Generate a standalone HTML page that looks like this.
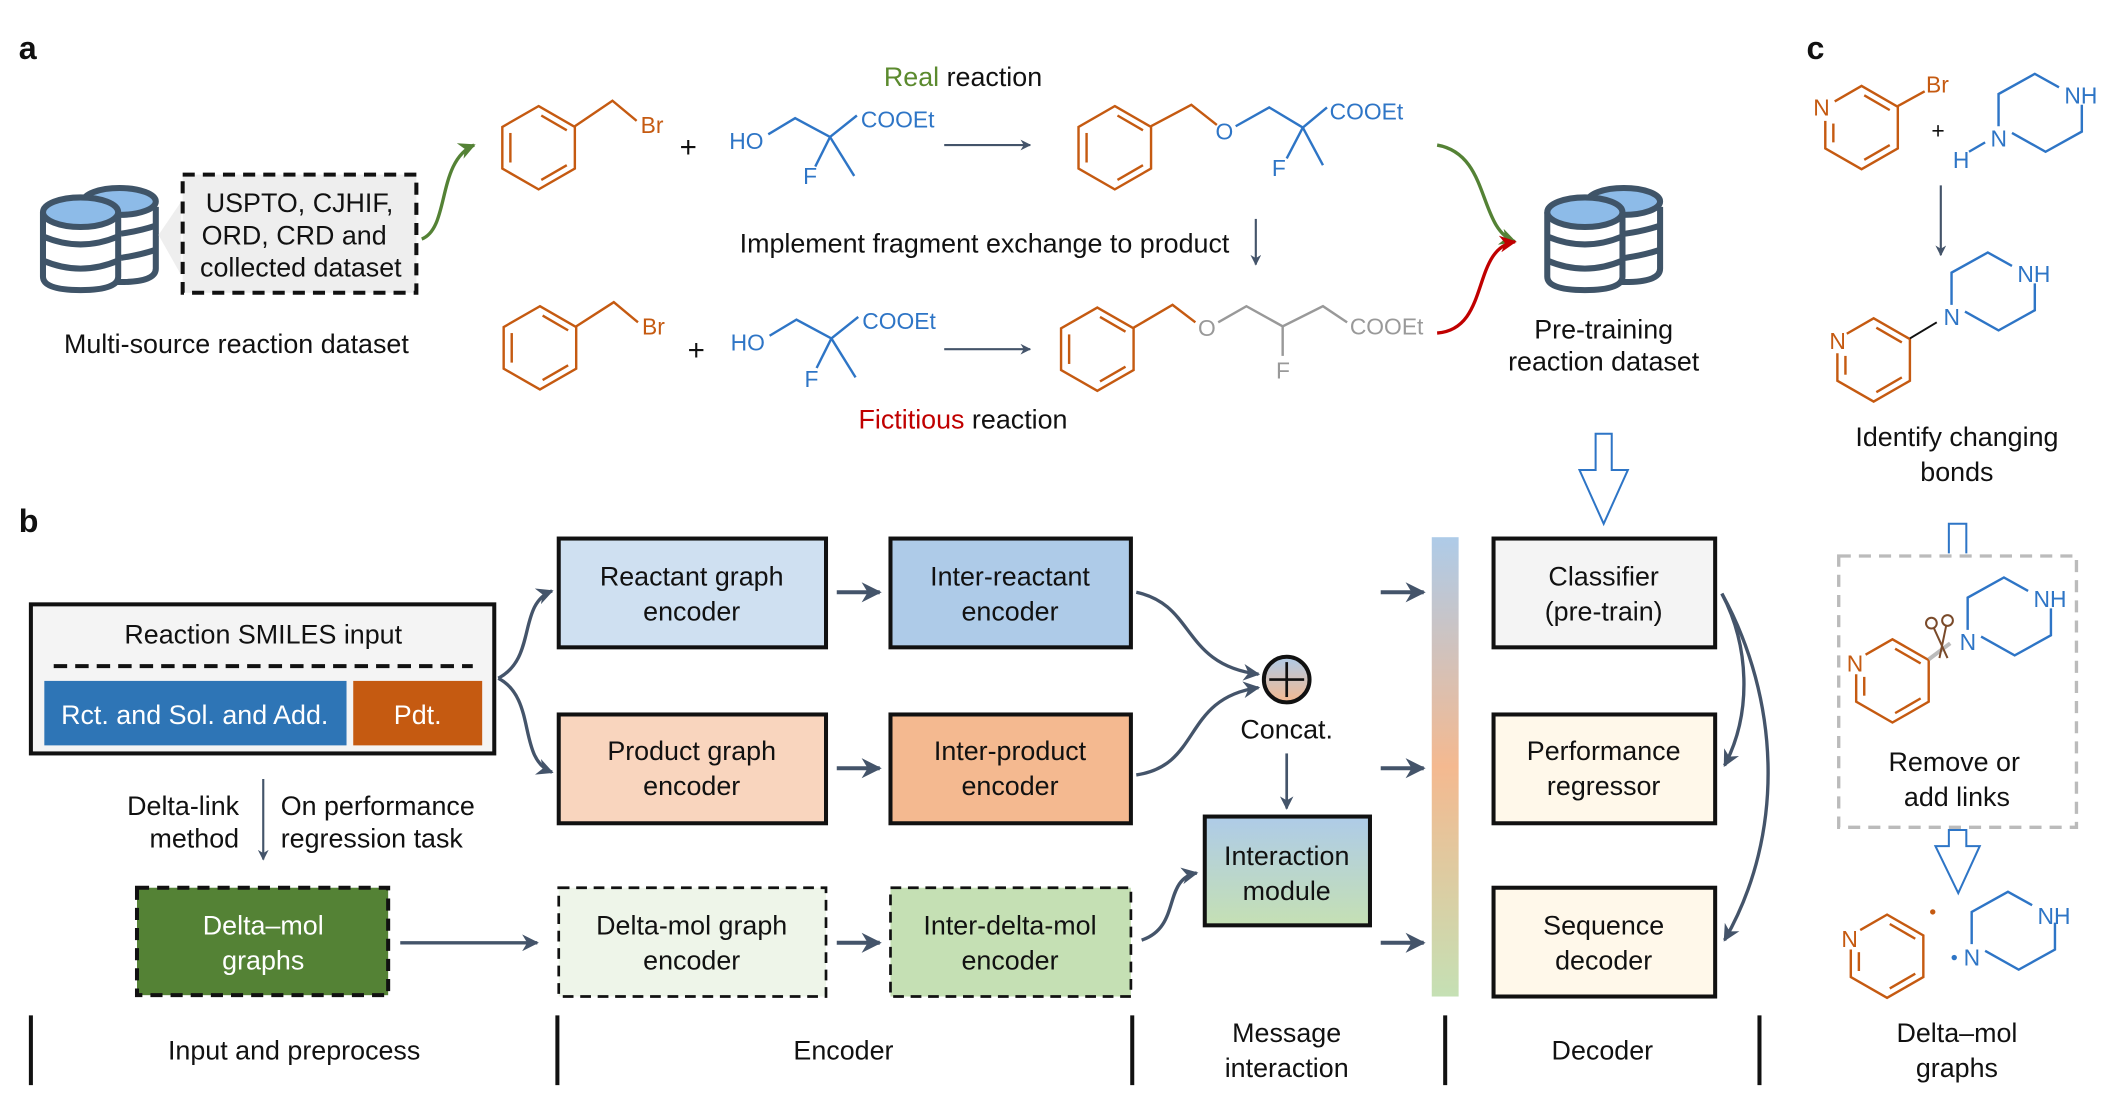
<!DOCTYPE html>
<html><head><meta charset="utf-8"><style>
html,body{margin:0;padding:0;background:#fff;width:2106px;height:1110px;overflow:hidden}
svg{display:block}
text{font-family:"Liberation Sans",sans-serif;font-size:20px;fill:#111}
</style></head><body>
<svg width="2106" height="1110" viewBox="0 0 1568 826.5" preserveAspectRatio="none" xmlns="http://www.w3.org/2000/svg">
<defs>
<marker id="ah" viewBox="0 0 10 10" refX="9" refY="5" markerWidth="5" markerHeight="5" orient="auto"><path d="M0,0 L10,5 L0,10 L3,5 z" fill="#44546a"/></marker>
<marker id="ahg" viewBox="0 0 10 10" refX="9" refY="5" markerWidth="5" markerHeight="5" orient="auto"><path d="M0,0 L10,5 L0,10 L3,5 z" fill="#548235"/></marker>
<marker id="ahr" viewBox="0 0 10 10" refX="9" refY="5" markerWidth="5" markerHeight="5" orient="auto"><path d="M0,0 L10,5 L0,10 L3,5 z" fill="#c00000"/></marker>
<g id="bz" fill="none" stroke="#c55a11" stroke-width="1.8">
<polygon points="0,-31 27,-15.5 27,15.5 0,31 -27,15.5 -27,-15.5"/>
<line x1="2" y1="-24" x2="21" y2="-13"/><line x1="-21" y1="-11" x2="-21" y2="11"/><line x1="21" y1="13" x2="2" y2="24"/>
</g>
<g id="py" fill="none" stroke="#c55a11" stroke-width="1.8">
<polyline points="-20,-19.5 0,-31 27,-15.5 27,15.5 0,31 -27,15.5 -27,-5"/>
<line x1="2" y1="-24" x2="21" y2="-13"/><line x1="-21" y1="-3" x2="-21" y2="11"/><line x1="21" y1="13" x2="2" y2="24"/>
</g>
<g id="pip" fill="none" stroke="#2e75c6" stroke-width="1.8">
<polyline points="0,-9 0,-33 27,-48 45,-38"/><polyline points="62,-25 62,-5 35,10 10,-4"/>
</g>
<g id="db" stroke="#3f5468" stroke-width="4.5">
<path d="M30,16 L30,62 Q30,72 58,72 Q84,72 84,62 L84,16" fill="#fff"/>
<ellipse cx="57" cy="12" rx="27" ry="10" fill="#8dbbe8"/>
<path d="M58,36 Q72,34 84,30 M58,54 Q72,52 84,48" fill="none"/>
<path d="M0,20 L0,68 Q0,78 28,78 Q56,78 56,68 L56,20" fill="#fff"/>
<ellipse cx="28" cy="20" rx="28" ry="11" fill="#8dbbe8"/>
<path d="M0,38 Q28,50 56,38 M0,56 Q28,68 56,56" fill="none"/>
</g>
<linearGradient id="gbar" x1="0" y1="0" x2="0" y2="1"><stop offset="0" stop-color="#aecbe8"/><stop offset="0.5" stop-color="#f4b990"/><stop offset="1" stop-color="#c5e0b4"/></linearGradient>
<linearGradient id="gim" x1="0" y1="0" x2="0" y2="1"><stop offset="0" stop-color="#aecbe8"/><stop offset="1" stop-color="#c5e0b4"/></linearGradient>
<linearGradient id="gc" x1="0" y1="0" x2="0" y2="1"><stop offset="0" stop-color="#aecbe8"/><stop offset="1" stop-color="#f4b990"/></linearGradient>
</defs>

<text x="14" y="44" style="font-weight:bold;font-size:24px">a</text>
<text x="14" y="396" style="font-weight:bold;font-size:24px">b</text>
<text x="1345" y="44" style="font-weight:bold;font-size:24px">c</text>

<!-- panel a -->
<use href="#db" x="32" y="138"/>
<polygon points="135,150 118,175 135,205" fill="#eee"/>
<rect x="136" y="130" width="174" height="88" fill="#eee" stroke="#111" stroke-width="3" stroke-dasharray="9,6"/>
<text x="223" y="158" text-anchor="middle">USPTO, CJHIF,</text>
<text x="219" y="182" text-anchor="middle">ORD, CRD and</text>
<text x="224" y="206" text-anchor="middle">collected dataset</text>
<text x="176" y="263" text-anchor="middle">Multi-source reaction dataset</text>
<path d="M314,178 C335,170 325,120 353,108" fill="none" stroke="#548235" stroke-width="2.5" marker-end="url(#ahg)"/>

<text x="717" y="64" text-anchor="middle"><tspan fill="#5b8a2e">Real</tspan> reaction</text>
<use href="#bz" x="401" y="110"/>
<polyline points="428,94 456,75 474,90" fill="none" stroke="#c55a11" stroke-width="1.8"/>
<text x="477" y="99" style="fill:#c55a11;font-size:17px">Br</text>
<text x="506" y="117" style="font-size:22px">+</text>
<text x="543" y="111" style="fill:#2e75c6;font-size:17px">HO</text>
<polyline points="572,100 592,88 618,102 638,86" fill="none" stroke="#2e75c6" stroke-width="1.8"/>
<line x1="618" y1="102" x2="607" y2="124" stroke="#2e75c6" stroke-width="1.8"/>
<line x1="618" y1="102" x2="636" y2="131" stroke="#2e75c6" stroke-width="1.8"/>
<text x="641" y="95" style="fill:#2e75c6;font-size:17px">COOEt</text>
<text x="598" y="137" style="fill:#2e75c6;font-size:17px">F</text>
<line x1="703" y1="108" x2="767" y2="108" stroke="#44546a" stroke-width="1.6" marker-end="url(#ah)"/>
<use href="#bz" x="830" y="110"/>
<polyline points="857,94 887,78 906,93" fill="none" stroke="#c55a11" stroke-width="1.8"/>
<text x="905" y="104" style="fill:#2e75c6;font-size:17px">O</text>
<polyline points="920,94 945,80 970,95 988,80" fill="none" stroke="#2e75c6" stroke-width="1.8"/>
<line x1="970" y1="95" x2="958" y2="118" stroke="#2e75c6" stroke-width="1.8"/>
<line x1="970" y1="95" x2="985" y2="123" stroke="#2e75c6" stroke-width="1.8"/>
<text x="990" y="89" style="fill:#2e75c6;font-size:17px">COOEt</text>
<text x="947" y="131" style="fill:#2e75c6;font-size:17px">F</text>

<text x="733" y="188" text-anchor="middle">Implement fragment exchange to product</text>
<line x1="935" y1="163" x2="935" y2="197" stroke="#44546a" stroke-width="1.6" marker-end="url(#ah)"/>

<use href="#bz" x="402" y="259"/>
<polyline points="429,243 457,225 475,240" fill="none" stroke="#c55a11" stroke-width="1.8"/>
<text x="478" y="249" style="fill:#c55a11;font-size:17px">Br</text>
<text x="512" y="268" style="font-size:22px">+</text>
<text x="544" y="261" style="fill:#2e75c6;font-size:17px">HO</text>
<polyline points="573,250 593,238 619,252 639,236" fill="none" stroke="#2e75c6" stroke-width="1.8"/>
<line x1="619" y1="252" x2="608" y2="274" stroke="#2e75c6" stroke-width="1.8"/>
<line x1="619" y1="252" x2="637" y2="281" stroke="#2e75c6" stroke-width="1.8"/>
<text x="642" y="245" style="fill:#2e75c6;font-size:17px">COOEt</text>
<text x="599" y="288" style="fill:#2e75c6;font-size:17px">F</text>
<line x1="703" y1="260" x2="767" y2="260" stroke="#44546a" stroke-width="1.6" marker-end="url(#ah)"/>
<use href="#bz" x="817" y="260"/>
<polyline points="844,244 873,227 890,240" fill="none" stroke="#c55a11" stroke-width="1.8"/>
<text x="892" y="250" style="fill:#999;font-size:17px">O</text>
<polyline points="907,240 928,228 955,243 985,228 1003,240" fill="none" stroke="#999" stroke-width="1.8"/>
<line x1="955" y1="243" x2="955" y2="265" stroke="#999" stroke-width="1.8"/>
<text x="1005" y="249" style="fill:#999;font-size:17px">COOEt</text>
<text x="950" y="282" style="fill:#999;font-size:17px">F</text>
<text x="717" y="319" text-anchor="middle"><tspan fill="#c00000">Fictitious</tspan> reaction</text>

<path d="M1070,108 C1110,115 1100,170 1128,180" fill="none" stroke="#548235" stroke-width="2.5" marker-end="url(#ahg)"/>
<path d="M1070,248 C1110,245 1095,185 1128,180" fill="none" stroke="#c00000" stroke-width="2.5" marker-end="url(#ahr)"/>
<use href="#db" x="1152" y="138"/>
<text x="1194" y="252" text-anchor="middle">Pre-training</text>
<text x="1194" y="276" text-anchor="middle">reaction dataset</text>
<polygon points="1188,323 1200,323 1200,350 1212,350 1194,390 1176,350 1188,350" fill="#fff" stroke="#2e75c6" stroke-width="1.5"/>

<!-- panel b -->
<rect x="23" y="450" width="345" height="111" fill="#f4f4f4" stroke="#111" stroke-width="3"/>
<text x="196" y="479" text-anchor="middle">Reaction SMILES input</text>
<line x1="40" y1="496" x2="352" y2="496" stroke="#111" stroke-width="3" stroke-dasharray="10,6"/>
<rect x="33" y="507" width="225" height="48" fill="#2e75b6"/>
<rect x="263" y="507" width="96" height="48" fill="#c55a11"/>
<text x="145" y="539" text-anchor="middle" style="fill:#fff;font-size:20px">Rct. and Sol. and Add.</text>
<text x="311" y="539" text-anchor="middle" style="fill:#fff;font-size:20px">Pdt.</text>
<path d="M371,505 C400,490 385,450 411,440" fill="none" stroke="#44546a" stroke-width="2.5" marker-end="url(#ah)"/>
<path d="M371,505 C400,520 385,565 411,575" fill="none" stroke="#44546a" stroke-width="2.5" marker-end="url(#ah)"/>

<text x="178" y="607" text-anchor="end">Delta-link</text>
<text x="178" y="631" text-anchor="end">method</text>
<text x="209" y="607">On performance</text>
<text x="209" y="631">regression task</text>
<line x1="196" y1="580" x2="196" y2="640" stroke="#44546a" stroke-width="1.6" marker-end="url(#ah)"/>
<rect x="102" y="661" width="187" height="80" fill="#548235" stroke="#111" stroke-width="3" stroke-dasharray="9,6"/>
<text x="196" y="696" text-anchor="middle" style="fill:#fff">Delta–mol</text>
<text x="196" y="722" text-anchor="middle" style="fill:#fff">graphs</text>
<line x1="298" y1="702" x2="400" y2="702" stroke="#44546a" stroke-width="2.5" marker-end="url(#ah)"/>

<rect x="416" y="401" width="199" height="81" fill="#cfe0f1" stroke="#111" stroke-width="3"/>
<text x="515" y="436" text-anchor="middle">Reactant graph</text><text x="515" y="462" text-anchor="middle">encoder</text>
<rect x="663" y="401" width="179" height="81" fill="#aecbe8" stroke="#111" stroke-width="3"/>
<text x="752" y="436" text-anchor="middle">Inter-reactant</text><text x="752" y="462" text-anchor="middle">encoder</text>
<rect x="416" y="532" width="199" height="81" fill="#f9d5be" stroke="#111" stroke-width="3"/>
<text x="515" y="566" text-anchor="middle">Product graph</text><text x="515" y="592" text-anchor="middle">encoder</text>
<rect x="663" y="532" width="179" height="81" fill="#f4b990" stroke="#111" stroke-width="3"/>
<text x="752" y="566" text-anchor="middle">Inter-product</text><text x="752" y="592" text-anchor="middle">encoder</text>
<rect x="416" y="661" width="199" height="81" fill="#eef5e9" stroke="#111" stroke-width="2" stroke-dasharray="8,5"/>
<text x="515" y="696" text-anchor="middle">Delta-mol graph</text><text x="515" y="722" text-anchor="middle">encoder</text>
<rect x="663" y="661" width="179" height="81" fill="#c5e0b4" stroke="#111" stroke-width="2" stroke-dasharray="8,5"/>
<text x="752" y="696" text-anchor="middle">Inter-delta-mol</text><text x="752" y="722" text-anchor="middle">encoder</text>
<line x1="623" y1="441" x2="655" y2="441" stroke="#44546a" stroke-width="3" marker-end="url(#ah)"/>
<line x1="623" y1="572" x2="655" y2="572" stroke="#44546a" stroke-width="3" marker-end="url(#ah)"/>
<line x1="623" y1="702" x2="655" y2="702" stroke="#44546a" stroke-width="3" marker-end="url(#ah)"/>

<path d="M846,441 C890,450 880,495 937,502" fill="none" stroke="#44546a" stroke-width="2.5" marker-end="url(#ah)"/>
<path d="M846,577 C895,570 880,520 937,512" fill="none" stroke="#44546a" stroke-width="2.5" marker-end="url(#ah)"/>
<circle cx="958" cy="506" r="17" fill="url(#gc)" stroke="#111" stroke-width="3"/>
<line x1="945" y1="506" x2="971" y2="506" stroke="#111" stroke-width="2"/><line x1="958" y1="493" x2="958" y2="519" stroke="#111" stroke-width="2"/>
<text x="958" y="550" text-anchor="middle">Concat.</text>
<line x1="958" y1="561" x2="958" y2="602" stroke="#44546a" stroke-width="2" marker-end="url(#ah)"/>
<rect x="897" y="608" width="123" height="81" fill="url(#gim)" stroke="#111" stroke-width="3"/>
<text x="958" y="644" text-anchor="middle">Interaction</text><text x="958" y="670" text-anchor="middle">module</text>
<path d="M850,700 C880,690 865,655 891,650" fill="none" stroke="#44546a" stroke-width="2.5" marker-end="url(#ah)"/>

<line x1="1028" y1="441" x2="1060" y2="441" stroke="#44546a" stroke-width="3" marker-end="url(#ah)"/>
<line x1="1028" y1="572" x2="1060" y2="572" stroke="#44546a" stroke-width="3" marker-end="url(#ah)"/>
<line x1="1028" y1="702" x2="1060" y2="702" stroke="#44546a" stroke-width="3" marker-end="url(#ah)"/>
<rect x="1066" y="400" width="20" height="342" fill="url(#gbar)"/>

<rect x="1112" y="401" width="165" height="81" fill="#f4f4f4" stroke="#111" stroke-width="3"/>
<text x="1194" y="436" text-anchor="middle">Classifier</text><text x="1194" y="462" text-anchor="middle">(pre-train)</text>
<rect x="1112" y="532" width="165" height="81" fill="#fff8ea" stroke="#111" stroke-width="3"/>
<text x="1194" y="566" text-anchor="middle">Performance</text><text x="1194" y="592" text-anchor="middle">regressor</text>
<rect x="1112" y="661" width="165" height="81" fill="#fff8ea" stroke="#111" stroke-width="3"/>
<text x="1194" y="696" text-anchor="middle">Sequence</text><text x="1194" y="722" text-anchor="middle">decoder</text>
<path d="M1282,442 C1302,480 1305,530 1284,570" fill="none" stroke="#44546a" stroke-width="2.5" marker-end="url(#ah)"/>
<path d="M1282,442 C1325,520 1330,620 1284,700" fill="none" stroke="#44546a" stroke-width="2.5" marker-end="url(#ah)"/>

<g stroke="#111" stroke-width="3">
<line x1="23" y1="756" x2="23" y2="808"/><line x1="415" y1="756" x2="415" y2="808"/><line x1="843" y1="756" x2="843" y2="808"/><line x1="1076" y1="756" x2="1076" y2="808"/><line x1="1310" y1="756" x2="1310" y2="808"/>
</g>
<text x="219" y="789" text-anchor="middle">Input and preprocess</text>
<text x="628" y="789" text-anchor="middle">Encoder</text>
<text x="958" y="776" text-anchor="middle">Message</text><text x="958" y="802" text-anchor="middle">interaction</text>
<text x="1193" y="789" text-anchor="middle">Decoder</text>
<text x="1457" y="776" text-anchor="middle">Delta–mol</text><text x="1457" y="802" text-anchor="middle">graphs</text>

<!-- panel c -->
<use href="#py" x="1386" y="95"/>
<text x="1350" y="86" style="fill:#c55a11;font-size:17px">N</text>
<line x1="1413" y1="79" x2="1433" y2="68" stroke="#c55a11" stroke-width="1.8"/>
<text x="1434" y="69" style="fill:#c55a11;font-size:17px">Br</text>
<text x="1438" y="103" style="font-size:17px">+</text>
<use href="#pip" x="1488" y="103"/>
<text x="1482" y="109" style="fill:#2e75c6;font-size:17px">N</text>
<text x="1537" y="77" style="fill:#2e75c6;font-size:17px">NH</text>
<text x="1454" y="125" style="fill:#2e75c6;font-size:17px">H</text>
<line x1="1466" y1="113" x2="1478" y2="106" stroke="#2e75c6" stroke-width="1.8"/>
<line x1="1445" y1="138" x2="1445" y2="190" stroke="#44546a" stroke-width="1.6" marker-end="url(#ah)"/>
<use href="#py" x="1395" y="268"/>
<text x="1362" y="260" style="fill:#c55a11;font-size:17px">N</text>
<line x1="1422" y1="252" x2="1442" y2="240" stroke="#111" stroke-width="1.5"/>
<use href="#pip" x="1453" y="236"/>
<text x="1447" y="242" style="fill:#2e75c6;font-size:17px">N</text>
<text x="1502" y="210" style="fill:#2e75c6;font-size:17px">NH</text>
<text x="1457" y="332" text-anchor="middle">Identify changing</text>
<text x="1457" y="358" text-anchor="middle">bonds</text>
<polyline points="1451,412 1451,390 1464,390 1464,412" fill="none" stroke="#2e75c6" stroke-width="1.5"/>
<rect x="1369" y="414" width="177" height="202" fill="none" stroke="#bbb" stroke-width="2.5" stroke-dasharray="9,6"/>
<use href="#py" x="1409" y="507"/>
<text x="1375" y="500" style="fill:#c55a11;font-size:17px">N</text>
<line x1="1436" y1="491" x2="1452" y2="479" stroke="#bbb" stroke-width="3"/>
<g fill="none" stroke="#7a4a2a" stroke-width="1.5"><circle cx="1438" cy="464" r="4"/><circle cx="1450" cy="462" r="4"/><line x1="1440" y1="468" x2="1450" y2="490"/><line x1="1449" y1="466" x2="1444" y2="490"/></g>
<use href="#pip" x="1465" y="478"/>
<text x="1459" y="484" style="fill:#2e75c6;font-size:17px">N</text>
<text x="1514" y="452" style="fill:#2e75c6;font-size:17px">NH</text>
<text x="1455" y="574" text-anchor="middle">Remove or</text>
<text x="1457" y="600" text-anchor="middle">add links</text>
<polygon points="1451,618 1464,618 1464,630 1474,630 1458,665 1441,630 1451,630" fill="#fff" stroke="#2e75c6" stroke-width="1.5"/>
<use href="#py" x="1405" y="712"/>
<text x="1371" y="705" style="fill:#c55a11;font-size:17px">N</text>
<circle cx="1439" cy="679" r="2" fill="#c55a11"/>
<use href="#pip" x="1468" y="712"/>
<text x="1462" y="719" style="fill:#2e75c6;font-size:17px">N</text>
<circle cx="1455" cy="713" r="2" fill="#2e75c6"/>
<text x="1517" y="688" style="fill:#2e75c6;font-size:17px">NH</text>
</svg>
</body></html>
